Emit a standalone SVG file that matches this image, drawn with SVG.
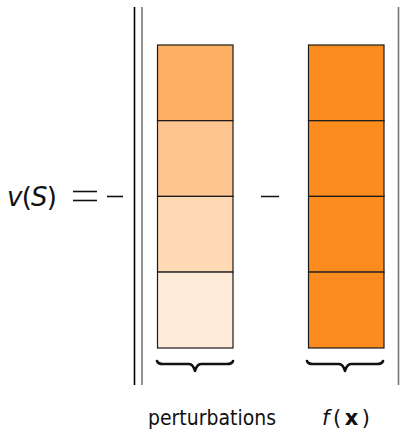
<svg xmlns="http://www.w3.org/2000/svg" width="404" height="437" viewBox="0 0 404 437">
<style>
.cell{stroke:#1a1a1a;stroke-width:1.2}
.bar{stroke-width:1.6;fill:none}
.brace{fill:none;stroke:#111;stroke-width:2.6;stroke-linecap:round;stroke-linejoin:round}
.t{font-family:"DejaVu Sans","Liberation Sans",sans-serif;fill:#111}
.i{font-style:italic}
</style>
<rect width="404" height="437" fill="#fff"/>
<g id="equation">
<text class="t" font-size="26" x="7" y="206" textLength="50" lengthAdjust="spacing"><tspan class="i">v</tspan>(<tspan class="i">S</tspan>)</text>
<line x1="73" y1="191.5" x2="97" y2="191.5" stroke="#111" stroke-width="1.6"/>
<line x1="73" y1="200.5" x2="97" y2="200.5" stroke="#111" stroke-width="1.6"/>
<line x1="107" y1="196.5" x2="123" y2="196.5" stroke="#111" stroke-width="1.6"/>
</g>
<g id="norm-bars">
<line class="bar" x1="134.5" y1="7" x2="134.5" y2="385" stroke="#000"/>
<line class="bar" x1="142" y1="7" x2="142" y2="385" stroke="#777"/>
<line class="bar" x1="398.5" y1="7" x2="398.5" y2="385" stroke="#777"/>
</g>
<g id="perturbations">
<rect class="cell" x="157.5" y="45" width="75.5" height="75.7" fill="#FDAF63"/>
<rect class="cell" x="157.5" y="120.7" width="75.5" height="75.7" fill="#FEC590"/>
<rect class="cell" x="157.5" y="196.4" width="75.5" height="75.7" fill="#FED9B4"/>
<rect class="cell" x="157.5" y="272.1" width="75.5" height="75.9" fill="#FEEBD8"/>
</g>
<g id="minus">
<line x1="261" y1="196.5" x2="279" y2="196.5" stroke="#111" stroke-width="1.5"/>
</g>
<g id="fx">
<rect class="cell" x="308.5" y="45" width="75.5" height="75.7" fill="#FD8C1E"/>
<rect class="cell" x="308.5" y="120.7" width="75.5" height="75.7" fill="#FD8C1E"/>
<rect class="cell" x="308.5" y="196.4" width="75.5" height="75.7" fill="#FD8C1E"/>
<rect class="cell" x="308.5" y="272.1" width="75.5" height="75.9" fill="#FD8C1E"/>
</g>
<g id="braces">
<path class="brace" d="M157,361 Q158,364 163,364 L189,364 Q193,364 195,371 Q197,364 201,364 L227,364 Q232,364 233,361"/>
<path class="brace" d="M307,361 Q308,364 313,364 L339,364 Q343,364 345,371 Q347,364 351,364 L377,364 Q382,364 383,361"/>
</g>
<g id="labels">
<text class="t" font-size="21" x="148" y="425" textLength="128" lengthAdjust="spacingAndGlyphs">perturbations</text>
<text class="t" font-size="21" x="322" y="425" textLength="48" lengthAdjust="spacing"><tspan class="i">f</tspan>(<tspan font-weight="bold">x</tspan>)</text>
</g>
</svg>
